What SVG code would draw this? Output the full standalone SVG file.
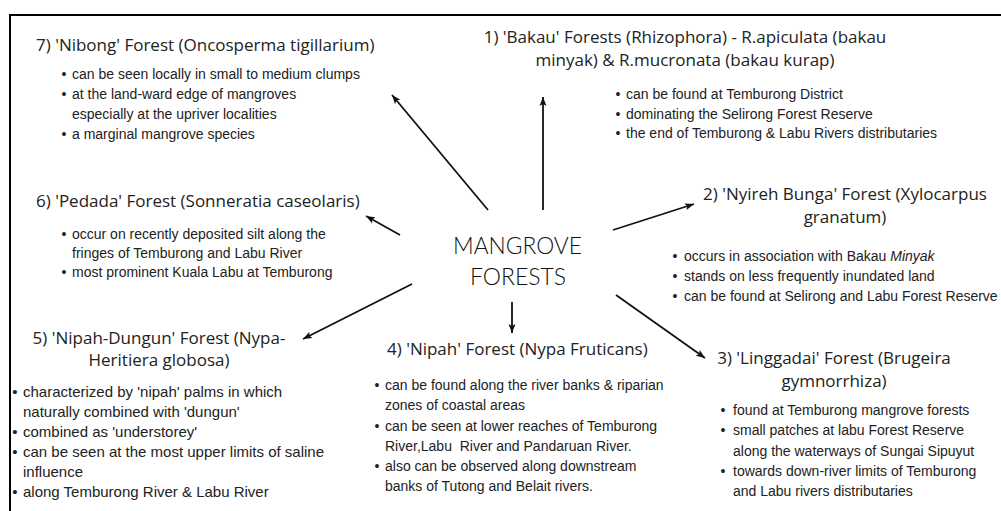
<svg xmlns="http://www.w3.org/2000/svg" width="1001" height="511" viewBox="0 0 1001 511">
<defs>
<marker id="ah" markerUnits="userSpaceOnUse" markerWidth="10" markerHeight="8" refX="9" refY="4" orient="auto">
<path d="M0,0.5 L9,4 L0,7.5 L2,4 z" fill="#111"/>
</marker>
<style>
.t{font-family:"Open Sans","Liberation Sans",sans-serif;font-size:17px;fill:#222}
.b{font-family:"Liberation Sans",Arial,sans-serif;font-size:14px;fill:#222}
.b5{font-family:"Liberation Sans",Arial,sans-serif;font-size:15px;fill:#222}
.m{text-anchor:middle}
.c{font-family:Lato,"Liberation Sans",sans-serif;font-size:24px;font-weight:300;fill:#111;text-anchor:middle}
.ln{stroke:#111;stroke-width:1.8;fill:none;marker-end:url(#ah)}
</style>
</defs>
<rect width="1001" height="511" fill="#fff"/>
<path d="M10,511 V15 H1001" stroke="#000" stroke-width="2" fill="none"/>
<g id="connectors">
<line class="ln" x1="543" y1="210" x2="543" y2="97"/>
<line class="ln" x1="488" y1="210" x2="392" y2="95"/>
<line class="ln" x1="400" y1="235" x2="366" y2="216"/>
<line class="ln" x1="412" y1="284" x2="303" y2="339"/>
<line class="ln" x1="512" y1="302" x2="512" y2="333"/>
<line class="ln" x1="616" y1="295" x2="705" y2="358"/>
<line class="ln" x1="613" y1="230" x2="694" y2="204"/>
</g>
<g id="center">
<text class="c" x="517.5" y="254" textLength="129" lengthAdjust="spacingAndGlyphs">MANGROVE</text>
<text class="c" x="518" y="285" textLength="96" lengthAdjust="spacingAndGlyphs">FORESTS</text>
</g>
<g id="node1">
<text class="t m" x="685" y="43">1) 'Bakau' Forests (Rhizophora) - R.apiculata (bakau</text>
<text class="t m" x="685" y="66">minyak) &amp; R.mucronata (bakau kurap)</text>
<text class="b m" x="618" y="99">•</text><text class="b" x="626" y="99">can be found at Temburong District</text>
<text class="b m" x="618" y="119">•</text><text class="b" x="626" y="119">dominating the Selirong Forest Reserve</text>
<text class="b m" x="618" y="138">•</text><text class="b" x="626" y="138">the end of Temburong &amp; Labu Rivers distributaries</text>
</g>
<g id="node2">
<text class="t m" x="845" y="200">2) 'Nyireh Bunga' Forest (Xylocarpus</text>
<text class="t m" x="845" y="223">granatum)</text>
<text class="b m" x="675" y="261">•</text><text class="b" x="684" y="261">occurs in association with Bakau <tspan font-style="italic">Minyak</tspan></text>
<text class="b m" x="675" y="281">•</text><text class="b" x="684" y="281">stands on less frequently inundated land</text>
<text class="b m" x="675" y="301">•</text><text class="b" x="684" y="301">can be found at Selirong and Labu Forest Reserve</text>
</g>
<g id="node3">
<text class="t m" x="834" y="364">3) 'Linggadai' Forest (Brugeira</text>
<text class="t m" x="834" y="387">gymnorrhiza)</text>
<text class="b m" x="723" y="415">•</text><text class="b" x="733" y="415">found at Temburong mangrove forests</text>
<text class="b m" x="723" y="435">•</text><text class="b" x="733" y="435">small patches at labu Forest Reserve</text>
<text class="b" x="733" y="456">along the waterways of Sungai Sipuyut</text>
<text class="b m" x="723" y="476">•</text><text class="b" x="733" y="476">towards down-river limits of Temburong</text>
<text class="b" x="733" y="496">and Labu rivers distributaries</text>
</g>
<g id="node4">
<text class="t" x="387" y="355">4) 'Nipah' Forest (Nypa Fruticans)</text>
<text class="b m" x="377" y="390">•</text><text class="b" x="385" y="390">can be found along the river banks &amp; riparian</text>
<text class="b" x="385" y="410">zones of coastal areas</text>
<text class="b m" x="377" y="431">•</text><text class="b" x="385" y="431">can be seen at lower reaches of Temburong</text>
<text class="b" x="385" y="451" xml:space="preserve">River,Labu  River and Pandaruan River.</text>
<text class="b m" x="377" y="471">•</text><text class="b" x="385" y="471">also can be observed along downstream</text>
<text class="b" x="385" y="491">banks of Tutong and Belait rivers.</text>
</g>
<g id="node5">
<text class="t m" x="159" y="344">5) 'Nipah-Dungun' Forest (Nypa-</text>
<text class="t m" x="159" y="366">Heritiera globosa)</text>
<text class="b5 m" x="15" y="397">•</text><text class="b5" x="23" y="397">characterized by 'nipah' palms in which</text>
<text class="b5" x="23" y="417">naturally combined with 'dungun'</text>
<text class="b5 m" x="15" y="437">•</text><text class="b5" x="23" y="437">combined as 'understorey'</text>
<text class="b5 m" x="15" y="457">•</text><text class="b5" x="23" y="457">can be seen at the most upper limits of saline</text>
<text class="b5" x="23" y="477">influence</text>
<text class="b5 m" x="15" y="497">•</text><text class="b5" x="23" y="497">along Temburong River &amp; Labu River</text>
</g>
<g id="node6">
<text class="t" x="36" y="207">6) 'Pedada' Forest (Sonneratia caseolaris)</text>
<text class="b m" x="64" y="239">•</text><text class="b" x="72" y="239">occur on recently deposited silt along the</text>
<text class="b" x="72" y="258">fringes of Temburong and Labu River</text>
<text class="b m" x="64" y="277">•</text><text class="b" x="72" y="277">most prominent Kuala Labu at Temburong</text>
</g>
<g id="node7">
<text class="t" x="36" y="51">7) 'Nibong' Forest (Oncosperma tigillarium)</text>
<text class="b m" x="64" y="79">•</text><text class="b" x="72" y="79">can be seen locally in small to medium clumps</text>
<text class="b m" x="64" y="99">•</text><text class="b" x="72" y="99">at the land-ward edge of mangroves</text>
<text class="b" x="72" y="119">especially at the upriver localities</text>
<text class="b m" x="64" y="139">•</text><text class="b" x="72" y="139">a marginal mangrove species</text>
</g>
</svg>
